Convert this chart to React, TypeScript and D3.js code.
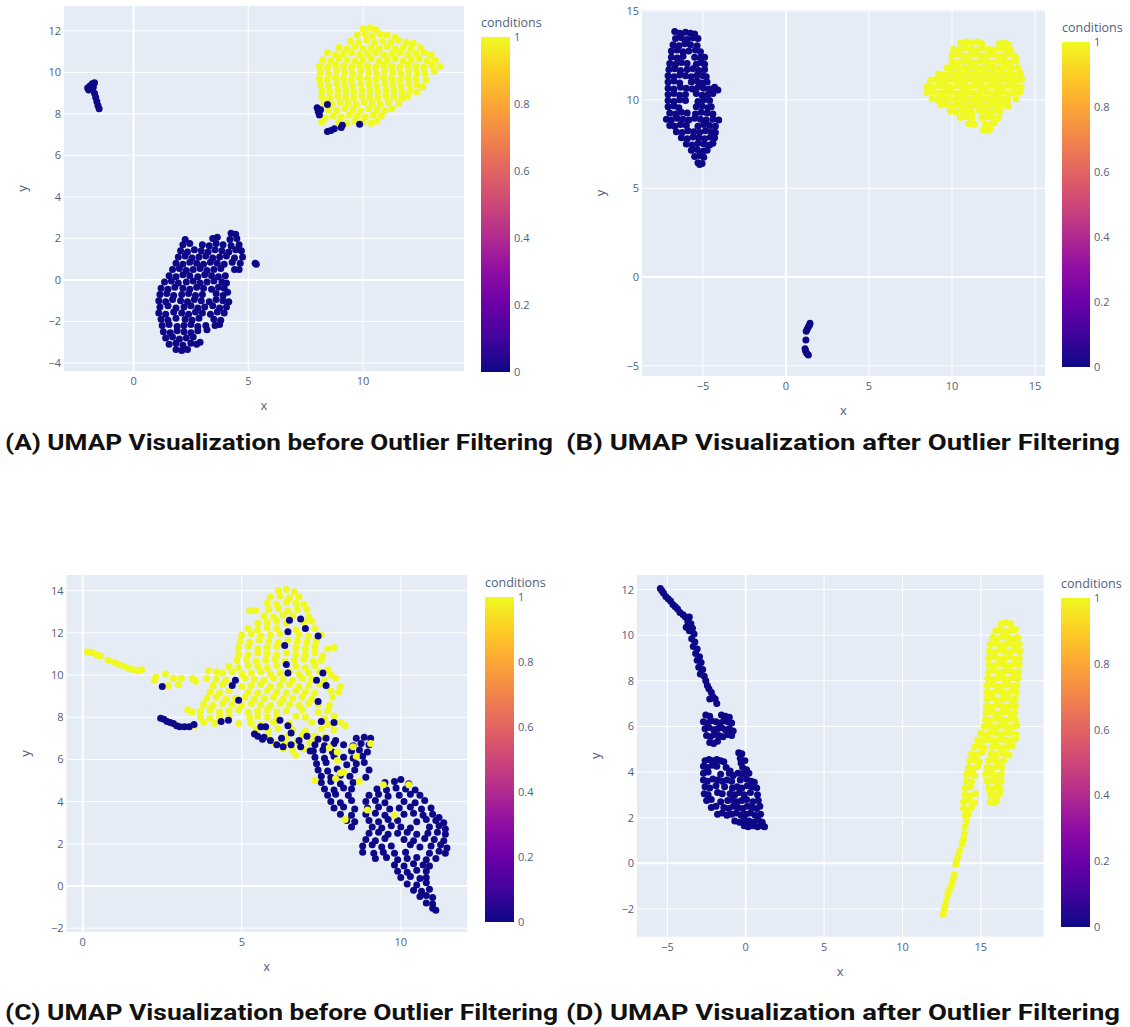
import React from 'react';
import * as d3 from 'd3';

type Pt = [number, number];

// ---- Panel A: before filtering ----
const aSmall: Pt[] = [[-2.0,9.25],[-1.9,9.35],[-1.8,9.45],[-1.7,9.5],[-1.95,9.15],[-1.8,9.2],[-1.7,9.0],[-1.65,8.8],[-1.6,8.6],[-1.55,8.4],[-1.5,8.25],[-1.75,9.3]];
const aYellow: Pt[] = [
  [10.0,12.1],[10.3,12.15],[10.55,12.05],
  [9.75,11.8],[10.1,11.85],[10.4,11.75],[10.75,11.85],[11.05,11.8],[11.4,11.7],
  [9.45,11.5],[9.8,11.45],[10.15,11.55],[10.5,11.45],[10.85,11.5],[11.2,11.45],[11.55,11.55],[11.9,11.45],[12.2,11.4],
  [8.95,11.2],[9.3,11.15],[9.65,11.25],[10.0,11.15],[10.35,11.2],[10.7,11.15],[11.05,11.25],[11.4,11.15],[11.75,11.2],[12.1,11.15],[12.5,11.2],
  [8.45,10.95],[8.8,10.85],[9.15,10.9],[9.5,10.95],[9.85,10.85],[10.2,10.9],[10.55,10.95],[10.9,10.85],[11.25,10.9],[11.6,10.95],[11.95,10.85],[12.3,10.9],[12.65,10.95],[12.95,10.85],
  [8.25,10.6],[8.6,10.55],[8.95,10.65],[9.3,10.6],[9.65,10.55],[10.0,10.6],[10.35,10.65],[10.7,10.55],[11.05,10.6],[11.4,10.65],[11.75,10.55],[12.1,10.6],[12.45,10.65],[12.8,10.55],[13.15,10.6],
  [8.1,10.3],[8.45,10.25],[8.8,10.35],[9.15,10.3],[9.5,10.25],[9.85,10.35],[10.2,10.3],[10.55,10.25],[10.9,10.35],[11.25,10.3],[11.6,10.25],[11.95,10.35],[12.3,10.3],[12.65,10.25],[13.0,10.35],[13.35,10.3],
  [8.15,10.0],[8.5,9.95],[8.85,10.05],[9.2,10.0],[9.55,9.95],[9.9,10.05],[10.25,10.0],[10.6,9.95],[10.95,10.05],[11.3,10.0],[11.65,9.95],[12.0,10.05],[12.35,10.0],[12.7,9.95],[13.1,10.05],
  [8.1,9.7],[8.45,9.65],[8.8,9.75],[9.15,9.7],[9.5,9.65],[9.85,9.75],[10.2,9.7],[10.55,9.65],[10.9,9.75],[11.25,9.7],[11.6,9.65],[11.95,9.75],[12.3,9.7],[12.75,9.65],
  [8.15,9.4],[8.5,9.35],[8.85,9.45],[9.2,9.4],[9.55,9.35],[9.9,9.45],[10.25,9.4],[10.6,9.35],[10.95,9.45],[11.3,9.4],[11.65,9.35],[12.0,9.45],[12.35,9.4],[12.6,9.3],
  [8.2,9.1],[8.55,9.05],[8.9,9.15],[9.25,9.1],[9.6,9.05],[9.95,9.15],[10.3,9.1],[10.65,9.05],[11.0,9.15],[11.35,9.1],[11.7,9.05],[12.05,9.15],[12.35,9.05],
  [8.2,8.8],[8.55,8.75],[8.9,8.85],[9.25,8.8],[9.6,8.75],[9.95,8.85],[10.3,8.8],[10.65,8.75],[11.0,8.85],[11.35,8.8],[11.7,8.75],[11.95,8.85],
  [8.3,8.5],[8.65,8.45],[9.0,8.55],[9.35,8.5],[9.7,8.45],[10.05,8.55],[10.4,8.5],[10.75,8.45],[11.1,8.55],[11.55,8.5],
  [8.5,8.2],[8.85,8.15],[9.2,8.25],[9.55,8.2],[9.9,8.15],[10.25,8.25],[10.6,8.2],[10.95,8.15],[11.25,8.25],
  [8.7,7.9],[9.05,7.85],[9.4,7.95],[9.75,7.9],[10.1,7.85],[10.45,7.95],[10.8,7.9],
  [8.95,7.6],[9.3,7.55],[9.65,7.65],[10.0,7.6],[10.35,7.55],[10.6,7.65],[8.2,7.6],[8.35,7.8]
];
const aBlueEdge: Pt[] = [[8.0,8.3],[8.05,8.1],[8.1,7.95],[8.15,8.2],[8.45,8.45],[8.45,7.15],[8.6,7.2],[8.75,7.28],[9.05,7.35],[9.1,7.45],[9.85,7.5]];
const aBlue: Pt[] = [
  [4.25,2.25],[4.45,2.2],
  [2.25,1.95],[3.45,2.0],[3.65,2.05],[4.2,1.95],[4.5,2.0],
  [2.15,1.7],[2.45,1.75],[3.0,1.7],[3.3,1.65],[3.6,1.75],[3.9,1.7],[4.25,1.65],[4.6,1.7],
  [2.05,1.4],[2.35,1.35],[2.65,1.45],[2.95,1.4],[3.25,1.35],[3.55,1.45],[3.85,1.4],[4.15,1.35],[4.45,1.45],[4.7,1.4],
  [1.95,1.1],[2.25,1.15],[2.55,1.05],[2.85,1.1],[3.15,1.15],[3.45,1.05],[3.75,1.1],[4.05,1.15],[4.4,1.05],[4.75,1.1],
  [1.85,0.8],[2.15,0.75],[2.45,0.85],[2.75,0.8],[3.05,0.75],[3.35,0.85],[3.65,0.8],[3.95,0.75],[4.3,0.85],[4.65,0.8],[5.3,0.8],[5.35,0.75],
  [1.7,0.5],[2.0,0.55],[2.3,0.45],[2.6,0.5],[2.9,0.55],[3.2,0.45],[3.5,0.5],[3.8,0.55],[4.4,0.5],[4.6,0.5],
  [1.55,0.2],[1.85,0.15],[2.15,0.25],[2.45,0.2],[2.8,0.15],[3.1,0.25],[3.4,0.2],[3.7,0.15],[4.0,0.2],
  [1.35,-0.1],[1.65,-0.05],[1.95,-0.15],[2.3,-0.1],[2.6,-0.05],[2.9,-0.15],[3.2,-0.1],[3.5,-0.05],[3.85,-0.1],[4.05,-0.15],
  [1.2,-0.4],[1.5,-0.45],[1.8,-0.35],[2.15,-0.4],[2.45,-0.45],[2.75,-0.35],[3.05,-0.4],[3.4,-0.45],[3.7,-0.35],[3.95,-0.4],
  [1.15,-0.7],[1.45,-0.65],[1.75,-0.75],[2.1,-0.7],[2.4,-0.65],[2.7,-0.75],[3.0,-0.7],[3.6,-0.65],[3.9,-0.75],[4.1,-0.6],
  [1.1,-1.0],[1.4,-1.05],[1.7,-0.95],[2.05,-1.0],[2.35,-1.05],[2.65,-0.95],[2.95,-1.0],[3.3,-1.05],[3.6,-0.95],[3.9,-1.0],[4.15,-1.05],
  [1.15,-1.3],[1.5,-1.25],[1.85,-1.35],[2.2,-1.3],[2.5,-1.25],[2.8,-1.35],[3.1,-1.3],[3.45,-1.25],[3.75,-1.35],[4.05,-1.3],
  [1.1,-1.6],[1.4,-1.65],[1.75,-1.55],[2.1,-1.6],[2.4,-1.65],[2.7,-1.55],[3.0,-1.6],[3.35,-1.65],[3.65,-1.55],[3.95,-1.6],
  [1.2,-1.9],[1.5,-1.95],[1.85,-1.85],[2.25,-1.9],[2.55,-1.95],[2.85,-1.85],[3.5,-1.9],[3.8,-1.95],
  [1.25,-2.2],[1.55,-2.15],[1.9,-2.25],[2.2,-2.2],[2.5,-2.15],[2.8,-2.25],[3.15,-2.2],[3.55,-2.2],[3.75,-2.15],
  [1.3,-2.5],[1.6,-2.55],[1.9,-2.45],[2.2,-2.5],[2.5,-2.55],[2.8,-2.45],[3.2,-2.4],
  [1.4,-2.8],[1.7,-2.75],[2.0,-2.85],[2.3,-2.8],[2.6,-2.75],
  [1.55,-3.1],[1.85,-3.05],[2.15,-3.15],[2.5,-3.05],[2.75,-3.1],[2.9,-3.0],
  [1.85,-3.35],[2.1,-3.4],[2.35,-3.35]
];

// ---- Panel B: after filtering ----
const bBlue: Pt[] = [
  [-6.7,13.85],[-6.4,13.75],[-6.05,13.8],[-5.75,13.75],[-5.5,13.7],
  [-6.65,13.45],[-6.3,13.5],[-5.95,13.4],[-5.6,13.5],[-5.3,13.45],
  [-6.8,13.1],[-6.45,13.05],[-6.1,13.15],[-5.75,13.1],[-5.35,13.05],
  [-6.9,12.75],[-6.55,12.8],[-6.2,12.7],[-5.85,12.75],[-5.45,12.8],[-5.15,12.7],
  [-6.9,12.4],[-6.55,12.35],[-6.2,12.45],[-5.5,12.4],[-5.15,12.35],[-4.9,12.4],
  [-7.0,12.05],[-6.65,12.0],[-6.3,12.1],[-5.95,12.05],[-5.4,12.0],[-5.1,12.1],[-4.9,12.0],
  [-7.05,11.7],[-6.7,11.75],[-6.35,11.65],[-5.95,11.7],[-5.6,11.75],[-5.25,11.65],[-4.9,11.7],
  [-7.1,11.35],[-6.75,11.3],[-6.4,11.4],[-6.05,11.35],[-5.7,11.3],[-5.35,11.4],[-5.0,11.35],[-4.8,11.3],
  [-7.1,11.0],[-6.75,11.05],[-6.4,10.95],[-5.7,11.0],[-5.35,11.05],[-5.05,10.95],[-4.75,11.0],
  [-7.1,10.65],[-6.75,10.6],[-6.35,10.7],[-6.0,10.65],[-5.65,10.6],[-5.3,10.7],[-4.95,10.65],[-4.6,10.6],[-4.3,10.7],[-4.1,10.55],
  [-7.1,10.3],[-6.75,10.35],[-6.4,10.25],[-6.05,10.3],[-5.4,10.35],[-5.05,10.25],[-4.7,10.3],[-4.4,10.35],
  [-7.1,9.95],[-6.75,9.9],[-6.4,10.0],[-6.05,9.95],[-5.3,9.9],[-4.95,10.0],[-4.6,9.95],
  [-7.1,9.6],[-6.75,9.65],[-6.45,9.55],[-5.4,9.6],[-5.05,9.65],[-4.7,9.55],[-4.5,9.6],
  [-7.0,9.25],[-6.65,9.2],[-6.3,9.3],[-5.95,9.25],[-5.45,9.2],[-5.1,9.3],[-4.75,9.25],[-4.4,9.2],
  [-7.2,8.9],[-6.9,8.85],[-6.55,8.95],[-6.2,8.9],[-5.85,8.85],[-5.5,8.95],[-5.15,8.9],[-4.8,8.85],[-4.4,8.9],[-4.05,8.85],
  [-7.0,8.55],[-6.7,8.5],[-6.35,8.6],[-6.0,8.55],[-5.3,8.5],[-4.95,8.6],[-4.6,8.55],[-4.25,8.5],
  [-6.6,8.2],[-6.25,8.15],[-5.9,8.25],[-5.55,8.2],[-5.2,8.15],[-4.85,8.25],[-4.5,8.2],[-4.25,8.15],
  [-6.3,7.85],[-5.95,7.8],[-5.6,7.9],[-5.25,7.85],[-4.9,7.8],[-4.55,7.9],[-4.3,7.85],
  [-6.0,7.5],[-5.65,7.45],[-5.3,7.55],[-4.95,7.5],[-4.6,7.45],[-4.4,7.55],
  [-5.7,7.15],[-5.35,7.2],[-5.0,7.1],[-4.75,7.15],
  [-5.5,6.8],[-5.2,6.85],[-4.95,6.75],
  [-5.3,6.45],[-5.05,6.4],[-5.2,6.35]
];
const bSmall: Pt[] = [[1.45,-2.6],[1.42,-2.7],[1.35,-2.8],[1.28,-2.95],[1.22,-3.05],[1.2,-3.55],[1.15,-4.05],[1.18,-4.15],[1.25,-4.3],[1.35,-4.4]];
const bYellow: Pt[] = [
  [10.5,13.2],[10.85,13.25],[11.2,13.2],[11.55,13.25],[11.8,13.15],[12.85,13.15],[13.2,13.2],[13.4,13.1],
  [10.1,12.85],[10.45,12.8],[10.8,12.9],[11.15,12.85],[11.5,12.8],[11.85,12.9],[12.2,12.85],[12.55,12.8],[12.9,12.9],[13.25,12.85],[13.55,12.8],
  [10.0,12.5],[10.35,12.55],[10.7,12.45],[11.05,12.5],[11.4,12.55],[11.75,12.45],[12.1,12.5],[12.45,12.55],[12.8,12.45],[13.15,12.5],[13.5,12.55],[13.8,12.45],
  [10.0,12.15],[10.35,12.1],[10.7,12.2],[11.05,12.15],[11.4,12.1],[11.75,12.2],[12.1,12.15],[12.45,12.1],[12.8,12.2],[13.15,12.15],[13.5,12.1],[13.85,12.2],
  [9.7,11.8],[10.05,11.85],[10.4,11.75],[10.75,11.8],[11.1,11.85],[11.45,11.75],[11.8,11.8],[12.15,11.85],[12.5,11.75],[12.85,11.8],[13.2,11.85],[13.55,11.75],[13.95,11.8],
  [9.2,11.45],[9.55,11.4],[9.9,11.5],[10.25,11.45],[10.6,11.4],[10.95,11.5],[11.3,11.45],[11.65,11.4],[12.0,11.5],[12.35,11.45],[12.7,11.4],[13.05,11.5],[13.4,11.45],[13.75,11.4],[14.1,11.5],
  [8.7,11.1],[9.05,11.15],[9.4,11.05],[9.75,11.1],[10.1,11.15],[10.45,11.05],[10.8,11.1],[11.15,11.15],[11.5,11.05],[11.85,11.1],[12.2,11.15],[12.55,11.05],[12.9,11.1],[13.25,11.15],[13.6,11.05],[13.95,11.1],[14.2,11.15],
  [8.5,10.75],[8.85,10.7],[9.2,10.8],[9.55,10.75],[9.9,10.7],[10.25,10.8],[10.6,10.75],[10.95,10.7],[11.3,10.8],[11.65,10.75],[12.0,10.7],[12.35,10.8],[12.7,10.75],[13.05,10.7],[13.4,10.8],[13.75,10.75],[14.15,10.7],
  [8.5,10.4],[8.85,10.45],[9.2,10.35],[9.55,10.4],[9.9,10.45],[10.25,10.35],[10.6,10.4],[10.95,10.45],[11.3,10.35],[11.65,10.4],[12.0,10.45],[12.35,10.35],[12.7,10.4],[13.05,10.45],[13.4,10.35],[13.75,10.4],[14.1,10.45],
  [8.8,10.05],[9.15,10.0],[9.5,10.1],[9.85,10.05],[10.2,10.0],[10.55,10.1],[10.9,10.05],[11.25,10.0],[11.6,10.1],[11.95,10.05],[12.3,10.0],[12.65,10.1],[13.0,10.05],[13.35,10.0],[13.85,10.05],
  [9.3,9.7],[9.65,9.75],[10.0,9.65],[10.35,9.7],[10.7,9.75],[11.05,9.65],[11.4,9.7],[11.75,9.75],[12.1,9.65],[12.45,9.7],[12.8,9.75],[13.15,9.7],[13.4,9.65],
  [9.9,9.35],[10.25,9.3],[10.6,9.4],[10.95,9.35],[11.2,9.3],[11.65,9.4],[12.0,9.35],[12.35,9.3],[12.7,9.4],[12.9,9.35],
  [10.5,9.0],[10.85,9.05],[11.2,8.95],[11.8,9.0],[12.15,9.05],[12.5,8.95],[12.8,9.0],
  [11.0,8.65],[11.35,8.6],[12.0,8.65],[12.3,8.6],[12.55,8.7],
  [11.9,8.3],[12.15,8.25],[12.3,8.35]
];

// ---- Panel C: before filtering ----
const cYellowTail: Pt[] = [[0.15,11.1],[0.3,11.05],[0.45,10.95],[0.55,10.9],[0.8,10.7],[1.0,10.6],[1.15,10.5],[1.3,10.4],[1.45,10.3],[1.6,10.25],[1.75,10.2],[1.85,10.25],
  [2.25,9.75],[2.3,9.9],[2.6,10.05],[2.7,9.5],[2.85,9.85],[3.0,9.55],[3.1,9.85],[3.45,9.85],[3.55,9.7],[3.9,9.85],[3.95,10.2],[4.2,10.15],[3.3,8.35],[3.45,8.25],[3.5,7.6]];
const cYellow: Pt[] = [
  [6.15,14.0],[6.4,14.05],[6.65,13.95],
  [5.9,13.7],[6.2,13.75],[6.5,13.65],[6.8,13.7],
  [5.8,13.4],[6.1,13.35],[6.4,13.45],[6.7,13.4],[6.95,13.35],
  [5.25,13.05],[5.45,13.05],[5.85,13.1],[6.15,13.15],[6.45,13.05],[6.75,13.1],[7.05,13.1],
  [5.7,12.8],[6.0,12.75],[6.3,12.85],[6.6,12.8],[7.1,12.75],
  [5.5,12.45],[5.8,12.5],[6.1,12.55],[6.4,12.45],[6.95,12.5],[7.2,12.55],
  [5.2,12.2],[5.5,12.15],[5.8,12.25],[6.1,12.2],[6.7,12.15],[7.3,12.2],
  [5.0,11.9],[5.3,11.95],[5.6,11.85],[5.9,11.9],[6.2,11.95],[6.8,11.9],[7.1,11.85],[7.5,11.9],
  [4.95,11.6],[5.25,11.55],[5.55,11.65],[5.85,11.6],[6.15,11.55],[6.45,11.65],[6.75,11.6],[7.05,11.55],[7.35,11.65],
  [4.9,11.3],[5.2,11.35],[5.5,11.25],[5.8,11.3],[6.1,11.35],[6.7,11.3],[7.0,11.25],[7.3,11.35],[7.7,11.25],[7.9,11.3],
  [4.9,11.0],[5.2,10.95],[5.5,11.05],[5.8,11.0],[6.1,10.95],[6.4,11.05],[6.7,11.0],[7.0,10.95],[7.3,11.05],[7.55,10.9],
  [4.85,10.7],[5.15,10.75],[5.45,10.65],[5.75,10.7],[6.05,10.75],[6.35,10.65],[6.65,10.7],[6.95,10.75],[7.25,10.65],[7.5,10.7],
  [4.6,10.4],[4.9,10.35],[5.2,10.45],[5.5,10.4],[5.8,10.35],[6.1,10.45],[6.7,10.4],[7.0,10.35],[7.3,10.45],[7.7,10.25],
  [4.4,10.1],[4.7,10.15],[5.0,10.05],[5.3,10.1],[5.6,10.15],[5.9,10.05],[6.2,10.1],[6.5,10.15],[6.8,10.05],[7.1,10.1],[7.45,10.15],[7.8,10.0],
  [4.2,9.8],[4.5,9.75],[5.1,9.85],[5.4,9.8],[5.7,9.75],[6.0,9.85],[6.3,9.8],[6.6,9.75],[6.9,9.85],[7.2,9.8],[7.6,9.75],[7.95,9.85],
  [4.1,9.5],[4.4,9.55],[5.0,9.45],[5.3,9.5],[5.6,9.55],[5.9,9.45],[6.2,9.5],[6.5,9.55],[6.8,9.45],[7.1,9.5],[7.45,9.55],[8.1,9.45],
  [4.0,9.2],[4.3,9.15],[4.6,9.25],[5.2,9.2],[5.5,9.15],[5.8,9.25],[6.1,9.2],[6.4,9.15],[6.7,9.25],[7.0,9.2],[7.3,9.15],[7.8,9.25],[8.05,9.2],
  [3.9,8.9],[4.2,8.95],[4.5,8.85],[4.8,8.9],[5.1,8.95],[5.4,8.85],[5.7,8.9],[6.0,8.95],[6.3,8.85],[6.6,8.9],[6.9,8.95],[7.2,8.85],[7.85,8.95],
  [3.8,8.6],[4.1,8.55],[4.4,8.65],[4.7,8.6],[5.0,8.55],[5.3,8.65],[5.6,8.6],[5.9,8.55],[6.2,8.65],[6.5,8.6],[6.8,8.55],[7.1,8.65],[7.4,8.6],[7.75,8.55],
  [3.7,8.3],[4.0,8.35],[4.3,8.25],[4.6,8.3],[4.9,8.35],[5.2,8.25],[5.5,8.3],[5.8,8.35],[6.1,8.25],[6.4,8.3],[6.9,8.35],[7.4,8.25],[7.7,8.3],
  [3.7,8.0],[4.0,7.95],[4.3,8.05],[4.6,8.0],[5.25,7.95],[5.5,8.05],[5.8,8.0],[6.1,7.95],[6.7,8.05],[7.0,8.0],[7.6,7.95],[7.9,8.05],
  [3.8,7.75],[4.15,7.7],[4.9,7.7],[5.3,7.7],[5.6,7.65],[6.0,7.75],[6.5,7.7],[7.2,7.75],[7.7,7.65],[8.1,7.75],[8.25,7.6],
  [5.45,7.4],[5.85,7.35],[6.15,7.45],[6.6,7.4],[7.0,7.35],[7.5,7.45],[7.9,7.4],
  [5.8,7.1],[6.4,7.05],[6.9,7.15],[7.3,7.1],[7.6,7.05],
  [6.0,6.8],[6.35,6.75],[6.75,6.85],[7.15,6.8],
  [6.3,6.5],[6.6,6.45],[6.95,6.5],[6.7,6.2]
];
const cBlue: Pt[] = [
  [2.45,7.95],[2.55,7.9],[2.65,7.8],[2.75,7.75],[2.85,7.7],[2.95,7.6],[3.05,7.55],[3.2,7.55],[3.35,7.55],[3.5,7.65],
  [5.4,7.2],[5.5,7.1],[5.7,7.05],[5.9,6.9],[6.1,6.7],[6.25,7.0],[6.55,7.25],[6.8,6.9],[7.05,7.1],[7.15,6.4],[6.3,6.6],[5.65,6.95],
  [7.4,6.95],[7.65,7.0],[7.95,6.9],[8.6,7.0],[8.85,7.05],[9.05,7.0],
  [7.3,6.7],[7.6,6.65],[7.9,6.75],[8.2,6.7],[8.5,6.65],[8.75,6.75],[9.0,6.7],
  [7.25,6.4],[7.55,6.45],[7.85,6.35],[8.45,6.4],[8.7,6.45],[8.95,6.35],
  [7.3,6.1],[7.6,6.05],[7.9,6.15],[8.2,6.1],[8.5,6.05],[8.8,6.15],
  [7.35,5.8],[7.65,5.85],[8.3,5.75],[8.6,5.8],[8.85,5.85],
  [7.4,5.5],[7.7,5.45],[8.0,5.55],[8.55,5.5],[9.0,5.5],
  [7.5,5.2],[7.8,5.15],[8.1,5.25],[8.4,5.2],[8.9,5.15],
  [7.5,4.9],[7.8,4.95],[8.1,4.85],[8.5,4.9],[9.5,4.9],[9.8,4.95],[10.0,5.05],[10.25,4.85],
  [7.6,4.6],[7.9,4.55],[8.2,4.65],[8.45,4.6],[9.25,4.6],[9.55,4.55],[9.85,4.65],[10.15,4.6],[10.45,4.55],
  [7.7,4.3],[7.95,4.35],[8.35,4.3],[9.0,4.3],[9.3,4.35],[9.6,4.25],[9.95,4.3],[10.3,4.35],[10.6,4.3],
  [7.8,4.0],[8.1,3.95],[8.45,4.05],[8.9,4.0],[9.2,4.05],[9.5,3.95],[10.1,4.0],[10.45,3.95],[10.75,4.05],
  [7.9,3.7],[8.2,3.75],[8.55,3.65],[8.95,3.7],[9.3,3.75],[9.65,3.65],[9.95,3.7],[10.3,3.75],[10.65,3.65],[10.95,3.7],
  [8.1,3.4],[8.45,3.35],[8.9,3.4],[9.2,3.45],[9.5,3.35],[10.1,3.4],[10.4,3.45],[10.7,3.35],[11.0,3.4],[11.2,3.25],
  [8.3,3.1],[8.55,3.05],[9.0,3.1],[9.3,3.05],[9.6,3.15],[9.9,3.1],[10.5,3.05],[10.8,3.15],[11.1,3.1],[11.35,3.0],
  [8.45,2.8],[9.1,2.8],[9.4,2.75],[9.7,2.85],[10.0,2.8],[10.3,2.75],[10.9,2.8],[11.2,2.85],[11.4,2.7],
  [9.0,2.5],[9.3,2.55],[9.6,2.45],[9.9,2.5],[10.2,2.55],[10.5,2.45],[10.85,2.5],[11.15,2.55],[11.4,2.45],
  [8.9,2.2],[9.2,2.15],[9.5,2.25],[10.1,2.2],[10.4,2.15],[10.75,2.25],[11.05,2.2],[11.35,2.15],
  [8.8,1.9],[9.1,1.95],[9.4,1.85],[9.7,1.9],[10.3,1.95],[10.6,1.85],[10.95,1.9],[11.25,1.95],[11.45,1.8],
  [8.8,1.6],[9.15,1.55],[9.45,1.6],[9.8,1.55],[10.15,1.6],[10.9,1.55],[11.2,1.65],[11.4,1.55],
  [9.2,1.3],[9.55,1.35],[9.9,1.25],[10.2,1.3],[10.5,1.35],[10.8,1.25],[11.1,1.3],
  [9.8,1.0],[10.1,0.95],[10.4,1.05],[10.7,1.0],[10.9,0.95],
  [9.9,0.7],[10.2,0.65],[10.5,0.75],[10.8,0.7],
  [10.0,0.4],[10.3,0.45],[10.6,0.35],[10.8,0.4],
  [10.2,0.1],[10.5,0.05],[10.8,0.15],
  [10.4,-0.2],[10.65,-0.25],[10.9,-0.15],
  [10.6,-0.5],[10.8,-0.45],[11.0,-0.55],
  [10.8,-0.8],[11.0,-0.85],
  [11.0,-1.05],[11.1,-1.15]
];
const cBlueMixed: Pt[] = [[2.5,9.45],[4.8,9.75],[4.7,9.5],[4.9,8.8],[4.35,7.8],[4.58,7.85],[6.5,12.6],[6.85,12.65],[7.0,12.2],[6.45,12.05],[6.35,11.4],[7.4,11.85],[6.4,10.5],[6.45,10.1],[7.35,9.75],[7.55,10.1],[7.65,9.5],[7.4,8.75],[6.2,7.85],[6.45,7.6],[6.85,6.6],[6.55,6.7],[5.75,7.55],[5.6,7.55],[7.5,7.8],[7.9,7.75]];
const cYellowMixed: Pt[] = [[7.3,5.0],[8.0,5.95],[8.1,5.35],[8.2,5.4],[7.95,5.1],[8.6,6.15],[8.7,4.95],[8.25,3.15],[8.95,3.6],[9.45,4.8],[9.8,3.35],[10.25,4.8],[9.05,6.75],[8.5,6.6],[7.75,6.55],[8.0,6.35]];

// ---- Panel D: after filtering ----
const dBlue: Pt[] = [
  [-5.45,12.05],[-5.35,11.95],[-5.25,11.85],[-5.1,11.7],[-4.95,11.6],[-4.8,11.5],[-4.65,11.35],[-4.5,11.25],[-4.35,11.15],[-4.2,11.0],[-4.0,10.9],[-3.85,10.8],[-3.6,10.8],[-3.7,10.6],[-3.5,10.5],[-3.8,10.35],[-3.6,10.2],[-3.4,10.3],[-3.3,10.05],[-3.45,9.85],[-3.25,9.7],[-3.35,9.5],[-3.1,9.4],[-3.2,9.2],[-2.95,9.05],[-3.1,8.9],[-2.85,8.8],[-3.0,8.6],[-2.75,8.5],[-2.9,8.3],[-2.65,8.2],[-2.55,8.0],[-2.45,7.8],[-2.35,7.65],[-2.2,7.5],[-2.1,7.3],[-2.3,7.2],[-1.95,7.2],[-1.85,7.0],
  [-2.55,6.5],[-2.3,6.45],[-1.55,6.5],[-1.3,6.45],[-1.05,6.4],
  [-2.7,6.2],[-2.45,6.15],[-2.2,6.25],[-1.9,6.2],[-1.65,6.15],[-1.4,6.25],[-1.15,6.2],[-0.9,6.15],
  [-2.6,5.9],[-2.35,5.95],[-2.05,5.85],[-1.8,5.9],[-1.55,5.95],[-1.3,5.85],[-1.05,5.9],[-0.8,5.8],
  [-2.5,5.6],[-2.25,5.55],[-2.0,5.65],[-1.7,5.6],[-1.45,5.55],[-1.15,5.65],[-0.9,5.6],
  [-2.3,5.3],[-2.05,5.25],[-1.8,5.35],
  [-0.45,4.85],[-0.25,4.8],[-0.35,4.6],
  [-2.6,4.5],[-2.35,4.55],[-2.1,4.5],[-1.85,4.55],[-1.6,4.5],[-1.4,4.45],[-0.3,4.4],[-0.05,4.5],
  [-2.7,4.25],[-2.45,4.2],[-2.15,4.3],[-1.85,4.25],[-1.25,4.2],[-1.0,4.05],[-0.2,4.2],[0.05,4.1],
  [-2.7,3.95],[-2.4,4.0],[-1.6,3.9],[-1.05,3.95],[-0.8,3.85],[-0.5,3.95],[-0.2,3.9],[0.2,3.95],
  [-2.7,3.65],[-2.45,3.6],[-2.1,3.7],[-1.8,3.65],[-1.5,3.6],[-1.2,3.65],[-0.9,3.6],[-0.35,3.65],[0.05,3.7],[0.35,3.6],[0.55,3.55],
  [-2.6,3.35],[-2.3,3.3],[-1.9,3.4],[-1.35,3.35],[-0.85,3.3],[-0.55,3.35],[-0.25,3.3],[0.1,3.4],[0.4,3.35],[0.7,3.3],
  [-2.65,3.05],[-2.4,3.0],[-1.8,3.1],[-1.5,3.05],[-1.0,3.05],[-0.7,3.0],[-0.4,3.1],[-0.1,3.0],[0.3,3.1],[0.75,3.0],
  [-2.5,2.75],[-2.2,2.8],[-1.6,2.7],[-1.15,2.75],[-0.85,2.8],[-0.55,2.7],[-0.25,2.75],[0.05,2.8],[0.45,2.7],[0.8,2.75],
  [-2.2,2.45],[-1.9,2.5],[-1.4,2.45],[-1.1,2.4],[-0.8,2.5],[-0.5,2.45],[-0.2,2.4],[0.1,2.5],[0.4,2.45],[0.7,2.4],[0.9,2.5],
  [-1.8,2.15],[-1.5,2.2],[-1.2,2.1],[-0.9,2.15],[-0.6,2.2],[-0.3,2.1],[0.0,2.15],[0.3,2.2],[0.6,2.1],[0.95,2.15],
  [-0.7,1.85],[-0.4,1.8],[-0.1,1.9],[0.2,1.85],[0.5,1.8],[0.8,1.9],[1.05,1.8],
  [-0.1,1.65],[0.15,1.6],[0.45,1.65],[0.75,1.6],[1.0,1.65],[1.2,1.6]
];
const dYellow: Pt[] = [
  [12.6,-2.25],[12.65,-2.05],[12.72,-1.85],[12.8,-1.6],[12.9,-1.35],[13.0,-1.15],[13.15,-0.9],[13.22,-0.7],[13.3,-0.5],[13.4,-0.05],[13.45,0.1],[13.55,0.3],[13.65,0.55],[13.8,0.85],[13.9,1.05],[13.95,1.3],[14.0,1.6],[14.1,1.85],
  [16.3,10.5],[16.6,10.55],[16.9,10.5],
  [15.95,10.2],[16.25,10.25],[16.6,10.15],[16.9,10.2],[17.2,10.25],
  [15.75,9.9],[16.05,9.85],[16.4,9.95],[16.7,9.9],[17.05,9.85],[17.35,9.9],
  [15.6,9.6],[15.95,9.65],[16.25,9.55],[16.6,9.6],[16.9,9.65],[17.2,9.55],[17.45,9.6],
  [15.55,9.3],[15.85,9.25],[16.2,9.35],[16.5,9.3],[16.85,9.25],[17.15,9.35],[17.5,9.3],
  [15.5,9.0],[15.85,9.05],[16.15,8.95],[16.5,9.0],[16.8,9.05],[17.15,8.95],[17.45,9.0],
  [15.55,8.7],[15.85,8.65],[16.2,8.75],[16.5,8.7],[16.85,8.65],[17.15,8.75],[17.45,8.7],
  [15.5,8.4],[15.8,8.45],[16.15,8.35],[16.45,8.4],[16.8,8.45],[17.1,8.35],[17.4,8.4],
  [15.45,8.1],[15.8,8.05],[16.1,8.15],[16.45,8.1],[16.75,8.05],[17.05,8.15],[17.35,8.1],
  [15.4,7.8],[15.75,7.85],[16.05,7.75],[16.4,7.8],[16.7,7.85],[17.05,7.75],[17.3,7.8],
  [15.4,7.5],[15.7,7.45],[16.05,7.55],[16.35,7.5],[16.7,7.45],[17.0,7.55],[17.25,7.5],
  [15.4,7.2],[15.75,7.25],[16.05,7.15],[16.4,7.2],[16.7,7.25],[17.0,7.15],[17.2,7.2],
  [15.4,6.9],[15.7,6.85],[16.05,6.95],[16.35,6.9],[16.7,6.85],[17.0,6.95],[17.2,6.9],
  [15.35,6.6],[15.7,6.65],[16.0,6.55],[16.35,6.6],[16.65,6.65],[16.95,6.55],[17.15,6.6],
  [15.3,6.3],[15.6,6.25],[15.95,6.35],[16.25,6.3],[16.6,6.25],[16.9,6.35],[17.2,6.3],
  [15.2,6.0],[15.5,6.05],[15.85,5.95],[16.15,6.0],[16.5,6.05],[16.8,5.95],[17.1,6.0],[17.3,6.05],
  [15.0,5.7],[15.3,5.65],[15.6,5.75],[15.95,5.7],[16.25,5.65],[16.6,5.75],[16.9,5.7],[17.25,5.65],
  [14.8,5.4],[15.1,5.35],[15.4,5.45],[15.65,5.4],[15.95,5.35],[16.3,5.45],[16.6,5.4],[16.9,5.35],[17.2,5.45],
  [14.6,5.1],[14.9,5.15],[15.25,5.05],[15.75,5.1],[16.05,5.15],[16.4,5.05],[16.7,5.1],[17.0,5.15],
  [14.4,4.8],[14.75,4.75],[15.05,4.85],[15.65,4.8],[15.95,4.75],[16.25,4.85],[16.55,4.8],[16.8,4.75],
  [14.3,4.5],[14.6,4.55],[14.9,4.45],[15.5,4.5],[15.8,4.55],[16.1,4.45],[16.45,4.5],
  [14.2,4.2],[14.5,4.15],[14.8,4.25],[15.4,4.2],[15.7,4.15],[16.0,4.25],[16.35,4.2],
  [14.1,3.9],[14.4,3.95],[14.6,3.85],[15.3,3.9],[15.65,3.95],[15.95,3.85],[16.3,3.9],
  [14.1,3.6],[14.4,3.55],[15.4,3.6],[15.7,3.65],[16.0,3.55],[16.3,3.6],
  [14.0,3.3],[14.35,3.35],[15.5,3.3],[15.8,3.25],[16.1,3.35],[16.25,3.25],
  [14.0,3.0],[14.3,2.95],[14.65,3.05],[15.6,3.0],[15.9,2.95],[16.2,3.05],
  [13.9,2.7],[14.2,2.75],[14.6,2.65],[15.6,2.7],[15.85,2.65],[16.0,2.75],
  [13.9,2.4],[14.15,2.35],[14.4,2.45],
  [14.0,2.1],[14.2,2.15]
];

const tickFive = [-5, 0, 5, 10, 15];
const tickAX = [0, 5, 10];
const tickAY = [-4, -2, 0, 2, 4, 6, 8, 10, 12];
const tickCY = [-2, 0, 2, 4, 6, 8, 10, 12, 14];
const tickDY = [-2, 0, 2, 4, 6, 8, 10, 12];
const cbarTicks = [0, 0.2, 0.4, 0.6, 0.8, 1];

const titles = [
  '(A) UMAP Visualization before Outlier Filtering',
  '(B) UMAP Visualization after Outlier Filtering',
  '(C) UMAP Visualization before Outlier Filtering',
  '(D) UMAP Visualization after Outlier Filtering'
];

const plasma = d3.scaleSequential(d3.interpolatePlasma).domain([0, 1]);
const FONT = '"Open Sans", verdana, arial, sans-serif';
const TICK = '#506080';

interface Series { pts: Pt[]; cond: number }
interface PanelProps {
  id: string;
  box: [number, number, number, number]; // x0, x1, y0(top), y1(bottom)
  xDomain: [number, number];
  yDomain: [number, number];
  xTicks: number[];
  yTicks: number[];
  cbar: [number, number, number, number];
  series: Series[];
  title: string;
  titleBox: [number, number, number];
}

function Panel({ id, box, xDomain, yDomain, xTicks, yTicks, cbar, series, title, titleBox }: PanelProps) {
  const [x0, x1, y0, y1] = box;
  const x = d3.scaleLinear().domain(xDomain).range([x0, x1]);
  const y = d3.scaleLinear().domain(yDomain).range([y1, y0]);
  const [cx0, cx1, cy0, cy1] = cbar;
  const cy = d3.scaleLinear().domain([0, 1]).range([cy1, cy0]);
  const fmt = d3.format('d');
  const cfmt = d3.format('~g');
  const stops = d3.range(0, 1.0001, 0.1);
  return (
    <g>
      <defs>
        <linearGradient id={`grad-${id}`} x1="0" y1="1" x2="0" y2="0">
          {stops.map(s => <stop key={s} offset={s} stopColor={plasma(s)} />)}
        </linearGradient>
        <clipPath id={`clip-${id}`}><rect x={x0} y={y0} width={x1 - x0} height={y1 - y0} /></clipPath>
      </defs>
      <rect x={x0} y={y0} width={x1 - x0} height={y1 - y0} fill="#E5ECF6" />
      {xTicks.map(t => (
        <line key={`gx${t}`} x1={x(t)} x2={x(t)} y1={y0} y2={y1} stroke="#fff" strokeWidth={t === 0 ? 2 : 1} />
      ))}
      {yTicks.map(t => (
        <line key={`gy${t}`} x1={x0} x2={x1} y1={y(t)} y2={y(t)} stroke="#fff" strokeWidth={t === 0 ? 2 : 1} />
      ))}
      <g clipPath={`url(#clip-${id})`}>
        {series.map((s, i) => (
          <g key={i} fill={plasma(s.cond)}>
            {s.pts.map((p, j) => <circle key={j} cx={x(p[0])} cy={y(p[1])} r={3.5} />)}
          </g>
        ))}
      </g>
      <g fontFamily={FONT} fontSize={11} fill={TICK}>
        {xTicks.map(t => (
          <text key={`tx${t}`} x={x(t)} y={y1 + 14} textAnchor="middle">{fmt(t)}</text>
        ))}
        {yTicks.map(t => (
          <text key={`ty${t}`} x={x0 - 3} y={y(t) + 4} textAnchor="end">{fmt(t)}</text>
        ))}
        <text x={(x0 + x1) / 2} y={y1 + 39} textAnchor="middle" fontSize={13}>x</text>
        <text transform={`translate(${x0 - 37},${(y0 + y1) / 2}) rotate(-90)`} textAnchor="middle" fontSize={13}>y</text>
        <rect x={cx0} y={cy0} width={cx1 - cx0} height={cy1 - cy0} fill={`url(#grad-${id})`} />
        {cbarTicks.map(t => (
          <text key={`c${t}`} x={cx1 + 4} y={cy(t) + 4}>{cfmt(t)}</text>
        ))}
        <text x={cx0} y={cy0 - 10} fontSize={12.5}>conditions</text>
      </g>
      <text x={titleBox[0]} y={titleBox[2]} textLength={titleBox[1] - titleBox[0]} lengthAdjust="spacingAndGlyphs"
        fontFamily="Roboto, sans-serif" fontWeight={700} fontSize={22} fill="#111">{title}</text>
    </g>
  );
}

export default function App() {
  return (
    <div style={{ position: 'absolute', left: 0, top: 0 }}>
      <svg width={1130} height={1027} style={{ display: 'block', background: '#fff' }}>
        <Panel id="a" box={[64, 464, 6, 371]} xDomain={[-3.03, 14.4]} yDomain={[-4.39, 13.2]}
          xTicks={tickAX} yTicks={tickAY} cbar={[481, 510, 37, 372]}
          series={[{ pts: aSmall, cond: 0 }, { pts: aYellow, cond: 1 }, { pts: aBlueEdge, cond: 0 }, { pts: aBlue, cond: 0 }]}
          title={titles[0]} titleBox={[5, 553, 450]} />
        <Panel id="b" box={[642, 1045, 10, 376]} xDomain={[-8.67, 15.6]} yDomain={[-5.58, 15.06]}
          xTicks={tickFive} yTicks={tickFive} cbar={[1062, 1090, 42, 367]}
          series={[{ pts: bBlue, cond: 0 }, { pts: bSmall, cond: 0 }, { pts: bYellow, cond: 1 }]}
          title={titles[1]} titleBox={[566, 1120, 450]} />
        <Panel id="c" box={[66.5, 467, 575, 932]} xDomain={[-0.51, 12.08]} yDomain={[-2.18, 14.74]}
          xTicks={tickAX} yTicks={tickCY} cbar={[485, 514, 597, 922]}
          series={[{ pts: cYellowTail, cond: 1 }, { pts: cYellow, cond: 1 }, { pts: cBlue, cond: 0 }, { pts: cBlueMixed, cond: 0 }, { pts: cYellowMixed, cond: 1 }]}
          title={titles[2]} titleBox={[5, 558, 1020]} />
        <Panel id="d" box={[637, 1043.5, 575, 936.7]} xDomain={[-6.94, 19.0]} yDomain={[-3.22, 12.64]}
          xTicks={tickFive} yTicks={tickDY} cbar={[1061, 1090, 598, 927]}
          series={[{ pts: dBlue, cond: 0 }, { pts: dYellow, cond: 1 }]}
          title={titles[3]} titleBox={[566, 1120, 1020]} />
      </svg>
    </div>
  );
}
